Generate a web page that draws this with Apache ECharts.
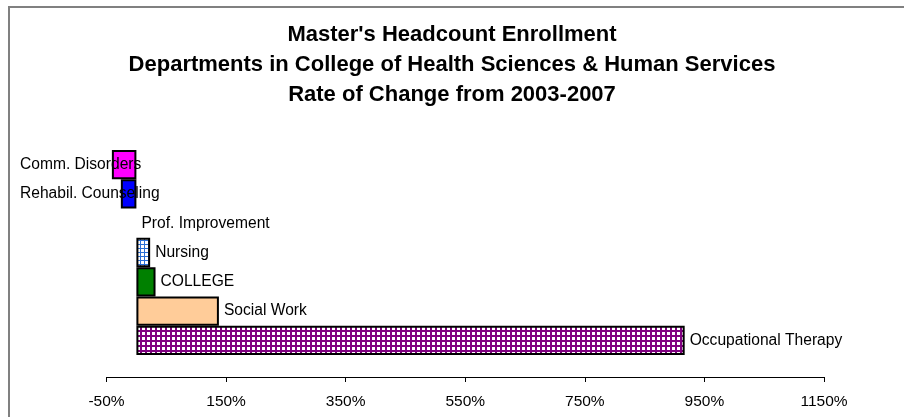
<!DOCTYPE html>
<html><head><meta charset="utf-8">
<script src="https://cdn.jsdelivr.net/npm/echarts@6/dist/echarts.min.js"></script>
<style>html,body{margin:0;padding:0;background:#fff}#c{width:904px;height:417px}</style>
</head><body><div id="c"></div>
<script>
const categories = ['Comm. Disorders','Rehabil. Counseling','Prof. Improvement','Nursing','COLLEGE','Social Work','Occupational Therapy'];
const rateOfChange = [-41, -26, 0, 23, 32, 138, 917];
const tickLabels = ['-50%','150%','350%','550%','750%','950%','1150%'];
const titleLines = ["Master's Headcount Enrollment", 'Departments in College of Health Sciences & Human Services', 'Rate of Change from 2003-2007'];

function gridPattern(size, lineW, lineColor) {
  const c = document.createElement('canvas');
  c.width = size; c.height = size;
  const g = c.getContext('2d');
  g.fillStyle = lineColor; g.fillRect(0, 0, size, size);
  g.fillStyle = '#ffffff'; g.fillRect(lineW, lineW, size - lineW, size - lineW);
  return { image: c, repeat: 'repeat' };
}
const fills = ['#FF00FF', '#0000FF', '#FFFFFF', gridPattern(4, 1, '#2a6fd6'), '#008000', '#FFCC99', gridPattern(5, 2, '#800080')];
const FONT = 'Liberation Sans, Arial, sans-serif';
const NEG_LABEL_LEFT = 20;

const chart = echarts.init(document.getElementById('c'), null, { renderer: 'canvas' });

function buildData(toPx) {
  return rateOfChange.map((v, i) => {
    const item = { value: v, itemStyle: { color: fills[i] } };
    if (v === 0) item.itemStyle.borderWidth = 0;
    if (v < 0) {
      const anchor = toPx ? toPx(v) - 5 : 0;
      item.label = { position: 'left', align: 'left', offset: [toPx ? NEG_LABEL_LEFT - anchor : 0, 0] };
    }
    return item;
  });
}

const option = {
  animation: false,
  backgroundColor: '#ffffff',
  title: {
    text: titleLines.join('\n'),
    left: 'center', top: 15,
    textStyle: { fontFamily: FONT, fontSize: 22, fontWeight: 'bold', color: '#000', lineHeight: 30 }
  },
  graphic: [{
    type: 'rect', shape: { x: 9, y: 7, width: 1000, height: 1000 }, silent: true,
    style: { fill: null, stroke: '#808080', lineWidth: 2 }
  }],
  grid: { left: 106.5, right: 80, top: 150, bottom: 62 },
  xAxis: {
    type: 'value', min: -50, max: 1150, interval: 200, offset: 22,
    splitLine: { show: false },
    axisLine: { show: true, lineStyle: { color: '#000', width: 1 } },
    axisTick: { show: true, length: 5, lineStyle: { color: '#000' } },
    axisLabel: { margin: 17, fontFamily: FONT, fontSize: 15.5, color: '#000',
      formatter: v => tickLabels[Math.round((v + 50) / 200)] }
  },
  yAxis: {
    type: 'category', data: categories, inverse: true,
    axisLine: { show: false }, axisTick: { show: false }, axisLabel: { show: false }, splitLine: { show: false }
  },
  series: [{
    type: 'bar', barCategoryGap: '0%', barWidth: '100%',
    data: buildData(null),
    itemStyle: { borderColor: '#000', borderWidth: 2 },
    label: { show: true, position: 'right', distance: 5, formatter: '{b}',
      fontFamily: FONT, fontSize: 15.6, color: '#000' }
  }]
};
chart.setOption(option);
const toPx = v => chart.convertToPixel({ xAxisIndex: 0 }, v);
chart.setOption({ series: [{ data: buildData(toPx) }] });
</script></body></html>
